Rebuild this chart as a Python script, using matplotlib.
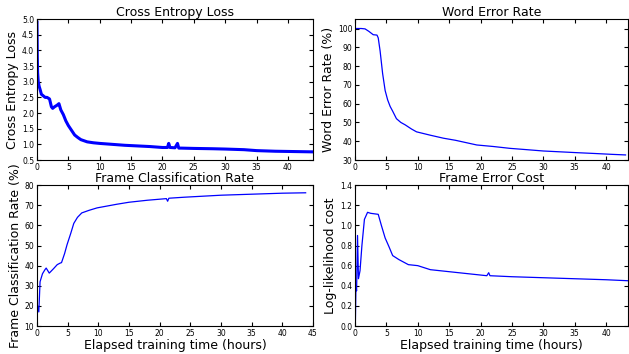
import numpy as np
import matplotlib.pyplot as plt

# cross entropy loss (noisy band drawn as a thick line)
ce_hours = [0.0, 0.05, 0.1, 0.2, 0.35, 0.5, 0.7, 1.0, 1.3, 1.6, 2.0, 2.3, 2.5, 2.8, 3.2, 3.5,
            3.8, 4.2, 4.6, 5.0, 5.5, 6.0, 6.5, 7.0, 8.0, 9.0, 10.0, 12.0, 14.0, 16.0, 18.0,
            20.0, 20.8, 21.0, 21.2, 22.0, 22.4, 22.6, 23.0, 25.0, 28.0, 30.0, 33.0, 35.0,
            38.0, 41.0, 44.0]
ce_loss = [4.9, 3.8, 3.3, 3.0, 2.85, 2.75, 2.6, 2.55, 2.5, 2.5, 2.45, 2.2, 2.15, 2.2, 2.25, 2.3,
           2.1, 1.95, 1.75, 1.6, 1.45, 1.3, 1.22, 1.15, 1.08, 1.05, 1.03, 1.0, 0.97, 0.95, 0.93,
           0.9, 0.9, 1.03, 0.9, 0.89, 1.03, 0.88, 0.88, 0.87, 0.86, 0.85, 0.83, 0.8,
           0.78, 0.77, 0.76]

# word error rate
wer_hours = [0.0, 1.0, 1.6, 2.2, 2.9, 3.5, 3.7, 4.0, 4.4, 4.8, 5.2, 5.6, 6.0, 6.6, 7.3, 8.0,
             9.0, 9.8, 12.0, 14.1, 16.0, 19.4, 22.0, 24.7, 27.0, 30.0, 33.0, 35.4, 38.0,
             41.0, 43.1]
wer = [100.0, 100.0, 99.8, 98.5, 96.7, 96.5, 95.0, 88.0, 76.0, 67.0, 62.0, 58.5, 56.0, 52.0,
       50.0, 48.7, 46.5, 45.0, 43.2, 41.6, 40.5, 38.0, 37.2, 36.2, 35.6, 34.8, 34.3, 33.9,
       33.5, 33.0, 32.7]

# frame classification rate
fcr_hours = [0.1, 0.3, 0.5, 0.9, 1.3, 1.5, 2.0, 2.7, 3.3, 3.8, 4.0, 4.5, 4.9, 5.5, 6.0, 6.6,
             7.3, 8.5, 9.8, 13.0, 15.0, 18.0, 21.1, 21.3, 21.5, 24.0, 30.0, 35.0, 40.0, 43.8]
fcr = [20.0, 17.0, 32.0, 36.0, 38.0, 38.8, 36.3, 38.5, 40.5, 41.3, 41.5, 46.0, 50.4, 56.0,
       61.0, 64.0, 66.2, 67.5, 68.7, 70.5, 71.5, 72.5, 73.3, 72.0, 73.5, 74.0, 75.0, 75.5,
       76.0, 76.2]

# frame error cost
fec_hours = [0.05, 0.15, 0.25, 0.4, 0.55, 0.8, 1.1, 1.5, 2.0, 2.5, 3.7, 4.2, 4.8, 5.4, 6.0,
             7.0, 8.5, 10.0, 12.0, 15.0, 18.0, 21.0, 21.3, 21.5, 25.0, 30.0, 35.0, 40.0, 43.5]
fec = [0.0, 0.4, 0.35, 0.9, 0.47, 0.55, 0.8, 1.06, 1.13, 1.12, 1.11, 1.0, 0.875, 0.79, 0.70,
       0.66, 0.61, 0.6, 0.56, 0.54, 0.52, 0.5, 0.53, 0.5, 0.49, 0.48, 0.47, 0.46, 0.45]

xlabel = "Elapsed training time (hours)"

plt.rcParams["font.family"] = "DejaVu Sans"
plt.rcParams["xtick.direction"] = "in"
plt.rcParams["ytick.direction"] = "in"
plt.rcParams["xtick.top"] = True
plt.rcParams["ytick.right"] = True
plt.rcParams["xtick.major.size"] = 3
plt.rcParams["ytick.major.size"] = 3
plt.rcParams["xtick.labelsize"] = 5.5
plt.rcParams["ytick.labelsize"] = 5.5
plt.rcParams["axes.linewidth"] = 0.8

fig = plt.figure(figsize=(6.29, 3.54), dpi=100)
L0, L1 = 0.0588, 0.4976
R0, R1 = 0.5644, 0.9985
T0, T1 = 0.548, 0.946
B0, B1 = 0.079, 0.477

fs = 9

ax1 = fig.add_axes([L0, T0, L1 - L0, T1 - T0])
ax1.plot(ce_hours, ce_loss, color="b", lw=2.2)
ax1.set_xlim(0, 44)
ax1.set_ylim(0.5, 5.0)
ax1.set_yticks(np.arange(0.5, 5.01, 0.5))
ax1.set_xticks(range(0, 45, 5))
ax1.set_title("Cross Entropy Loss", fontsize=fs, pad=2)
ax1.set_ylabel("Cross Entropy Loss", fontsize=fs, labelpad=2)

ax2 = fig.add_axes([R0, T0, R1 - R0, T1 - T0])
ax2.plot(wer_hours, wer, color="b", lw=0.9)
ax2.set_xlim(0, 43.5)
ax2.set_ylim(30, 105)
ax2.set_yticks(range(30, 101, 10))
ax2.set_xticks(range(0, 45, 5))
ax2.set_title("Word Error Rate", fontsize=fs, pad=2)
ax2.set_ylabel("Word Error Rate (%)", fontsize=fs, labelpad=2)

ax3 = fig.add_axes([L0, B0, L1 - L0, B1 - B0])
ax3.plot(fcr_hours, fcr, color="b", lw=0.9)
ax3.set_xlim(0, 45)
ax3.set_ylim(10, 80)
ax3.set_yticks(range(10, 81, 10))
ax3.set_xticks(range(0, 46, 5))
ax3.set_title("Frame Classification Rate", fontsize=fs, pad=2)
ax3.set_ylabel("Frame Classification Rate (%)", fontsize=fs, labelpad=2)
ax3.set_xlabel(xlabel, fontsize=fs, labelpad=1)

ax4 = fig.add_axes([R0, B0, R1 - R0, B1 - B0])
ax4.plot(fec_hours, fec, color="b", lw=0.9)
ax4.set_xlim(0, 43.5)
ax4.set_ylim(0, 1.4)
ax4.set_yticks(np.arange(0, 1.41, 0.2))
ax4.set_xticks(range(0, 45, 5))
ax4.set_title("Frame Error Cost", fontsize=fs, pad=2)
ax4.set_ylabel("Log-likelihood cost", fontsize=fs, labelpad=2)
ax4.set_xlabel(xlabel, fontsize=fs, labelpad=1)

for ax in (ax1, ax2, ax3, ax4):
    ax.tick_params(pad=2)

fig.savefig("out.png", dpi=100)
